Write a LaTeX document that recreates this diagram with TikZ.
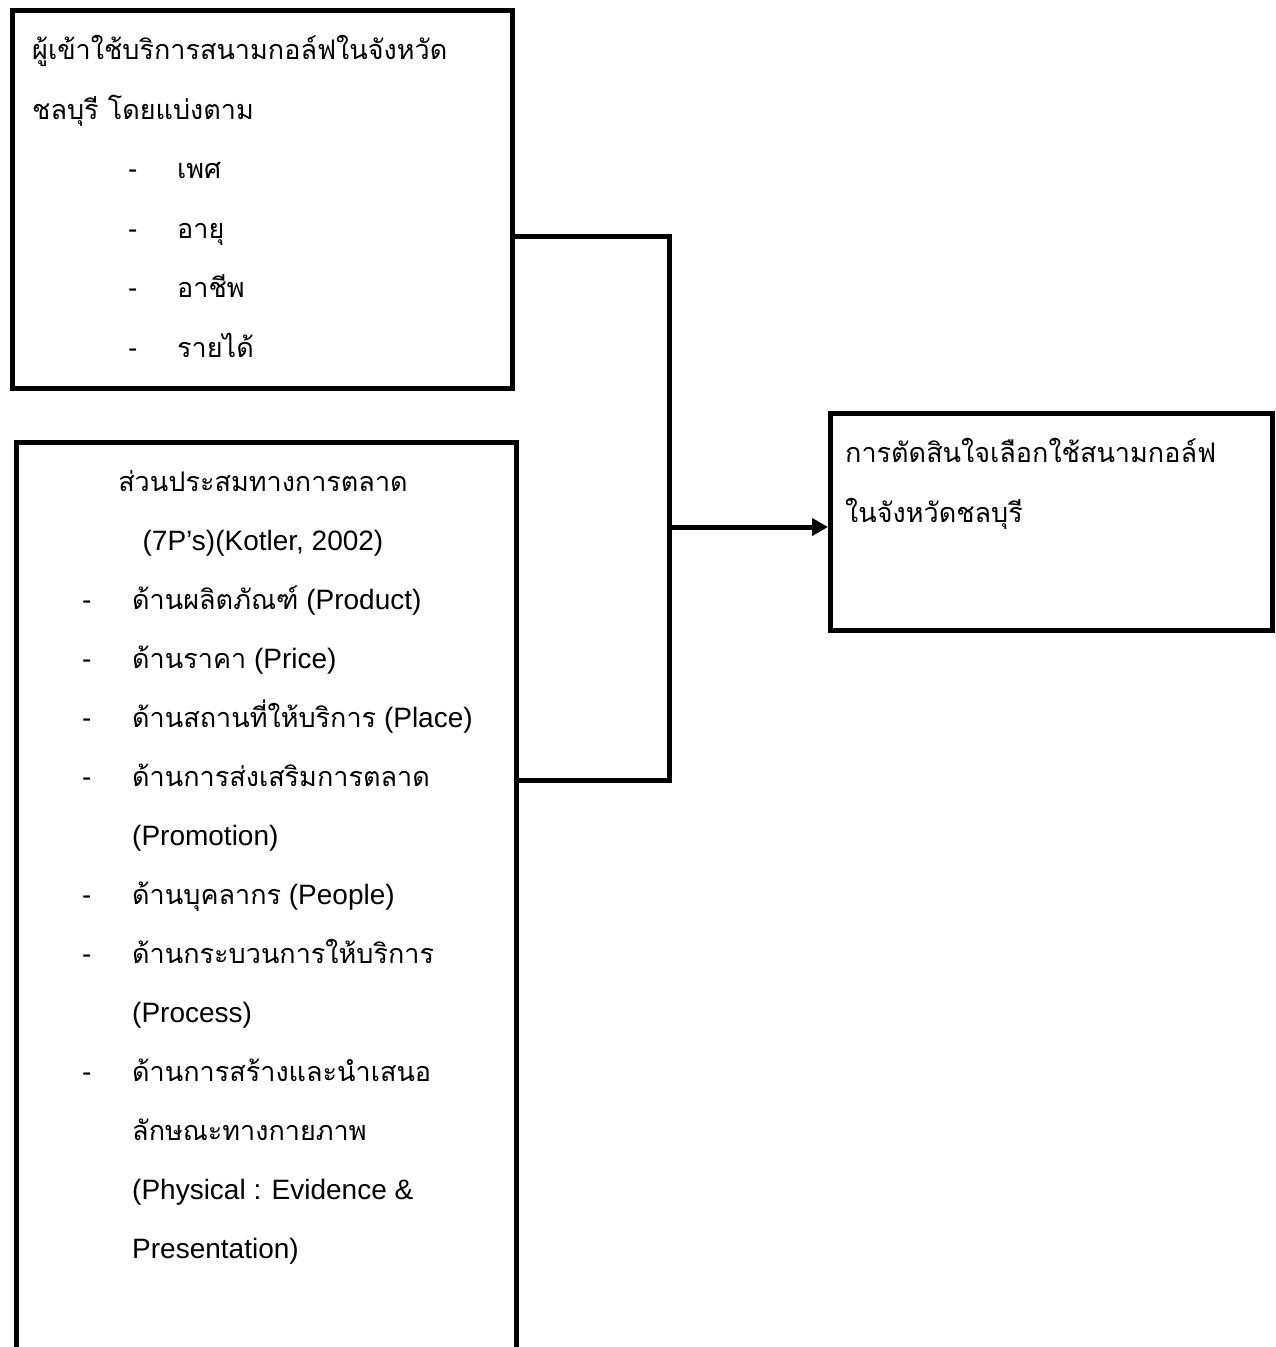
\documentclass[tikz,border=0pt]{standalone}
\usepackage{fontspec}
\usetikzlibrary{arrows.meta}
\newfontfamily\thaif[Script=Thai]{Loma}
\newfontfamily\latf{Liberation Sans}
\newcommand{\lat}[1]{{\fontsize{28}{30}\latf #1}}
\tikzset{
  box/.style={draw=black, line width=5pt, rectangle, inner sep=0pt, anchor=north west},
  conn/.style={draw=black, line width=5pt},
  txt/.style={anchor=base west, inner sep=0pt, font=\fontsize{27}{30}\thaif},
  ctxt/.style={anchor=base, inner sep=0pt, font=\fontsize{27}{30}\thaif},
  dsh/.style={anchor=base west, inner sep=0pt, font=\fontsize{28}{30}\latf},
}
\begin{document}
\begin{tikzpicture}[x=1pt,y=-1pt]
\useasboundingbox (0,0) rectangle (1275,1347);
\clip (0,0) rectangle (1275,1347);
% boxes
\node[box, minimum width=500pt, minimum height=378pt] (b1) at (10,8) {};
\node[box, minimum width=500.5pt, minimum height=1000pt] (b2) at (13.5,440) {};
\node[box, minimum width=442pt, minimum height=217pt] (b3) at (828,411) {};
% box 1 text
\node[txt] (t11) at (32,59.5) {ผู้เข้าใช้บริการสนามกอล์ฟในจังหวัด};
\node[txt] (t12) at (32,119) {ชลบุรี โดยแบ่งตาม};
\node[dsh] (d13) at (128,178.5) {-};
\node[txt] (t13) at (177,178.5) {เพศ};
\node[dsh] (d14) at (128,238) {-};
\node[txt] (t14) at (177,238) {อายุ};
\node[dsh] (d15) at (128,297.5) {-};
\node[txt] (t15) at (177,297.5) {อาชีพ};
\node[dsh] (d16) at (128,357) {-};
\node[txt] (t16) at (177,357) {รายได้};
% box 2 text
\node[ctxt] (t21) at (263,491) {ส่วนประสมทางการตลาด};
\node[ctxt] (t22) at (263,550) {\lat{(7P’s)(Kotler, 2002)}};
\node[dsh] (d23) at (82,609) {-};
\node[txt] (t23) at (132,609) {ด้านผลิตภัณฑ์\lat{ (Product)}};
\node[dsh] (d24) at (82,668) {-};
\node[txt] (t24) at (132,668) {ด้านราคา\lat{ (Price)}};
\node[dsh] (d25) at (82,727) {-};
\node[txt] (t25) at (132,727) {ด้านสถานที่ให้บริการ\lat{ (Place)}};
\node[dsh] (d26) at (82,786) {-};
\node[txt] (t26) at (132,786) {ด้านการส่งเสริมการตลาด};
\node[txt] (t27) at (132,845) {\lat{(Promotion)}};
\node[dsh] (d28) at (82,904) {-};
\node[txt] (t28) at (132,904) {ด้านบุคลากร\lat{ (People)}};
\node[dsh] (d29) at (82,963) {-};
\node[txt] (t29) at (132,963) {ด้านกระบวนการให้บริการ};
\node[txt] (t210) at (132,1022) {\lat{(Process)}};
\node[dsh] (d211) at (82,1081) {-};
\node[txt] (t211) at (132,1081) {ด้านการสร้างและนำเสนอ};
\node[txt] (t212) at (132,1140) {ลักษณะทางกายภาพ};
\node[txt] (t213) at (132,1199) {\lat{(Physical : Evidence \&}};
\node[txt] (t214) at (132,1258) {\lat{Presentation)}};
% box 3 text
\node[txt] (t31) at (845,462) {การตัดสินใจเลือกใช้สนามกอล์ฟ};
\node[txt] (t32) at (845,522) {ในจังหวัดชลบุรี};
% connectors
\coordinate (jt) at (669,236.5);
\coordinate (jb) at (669,780);
\coordinate (jm) at (669,527);
\draw[conn] (b1.east |- jt) -- (jt) -- (jb) -- (b2.east |- jb);
\draw[conn, -{Triangle[length=16pt,width=17pt]}] (jm) -- (b3.west |- jm);
\end{tikzpicture}
\end{document}
